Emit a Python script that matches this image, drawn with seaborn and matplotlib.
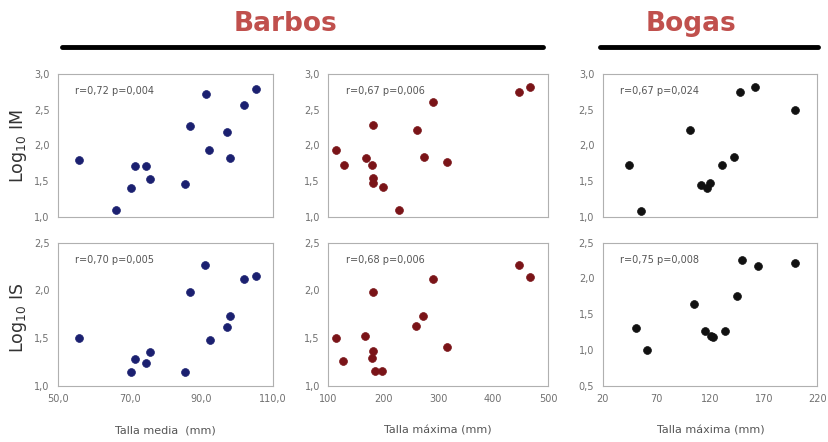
import numpy as np
import pandas as pd
import matplotlib
matplotlib.use('Agg')
import matplotlib.pyplot as plt
import seaborn as sns
from matplotlib.ticker import FuncFormatter

# Barbos - talla media vs log10 IM
barbo_media_im_x = [55.9, 66.3, 70.5, 71.5, 74.7, 75.7, 85.6, 86.8, 91.3, 92.3, 97.1, 98.0, 102.0, 105.3]
barbo_media_im_y = [1.80, 1.10, 1.40, 1.71, 1.71, 1.53, 1.46, 2.27, 2.72, 1.93, 2.19, 1.83, 2.57, 2.79]
# Barbos - talla media vs log10 IS
barbo_media_is_x = [55.8, 70.4, 71.5, 74.6, 75.7, 85.4, 86.8, 91.2, 92.4, 97.1, 98.1, 102.0, 105.4]
barbo_media_is_y = [1.50, 1.15, 1.28, 1.24, 1.35, 1.15, 1.98, 2.27, 1.48, 1.62, 1.73, 2.12, 2.15]
# Barbos - talla maxima vs log10 IM
barbo_max_im_x = [114, 128, 168, 179, 181, 181, 182, 199, 228, 261, 274, 290, 316, 447, 467]
barbo_max_im_y = [1.94, 1.72, 1.83, 1.72, 2.28, 1.55, 1.47, 1.42, 1.10, 2.21, 1.84, 2.60, 1.77, 2.75, 2.81]
# Barbos - talla maxima vs log10 IS
barbo_max_is_x = [114, 127, 167, 179, 181, 181, 185, 198, 260, 273, 291, 317, 447, 467]
barbo_max_is_y = [1.50, 1.26, 1.52, 1.29, 1.36, 1.98, 1.16, 1.16, 1.63, 1.73, 2.12, 1.41, 2.27, 2.14]
# Bogas - talla maxima vs log10 IM
boga_max_im_x = [44.7, 55.5, 101.6, 111.2, 117.4, 119.5, 131.0, 142.4, 147.7, 162.2, 198.7]
boga_max_im_y = [1.72, 1.09, 2.21, 1.45, 1.41, 1.47, 1.72, 1.84, 2.74, 2.81, 2.50]
# Bogas - talla maxima vs log10 IS
boga_max_is_x = [50.9, 61.4, 105.3, 115.2, 121.1, 123.2, 134.4, 145.2, 149.8, 165.0, 199.6]
boga_max_is_y = [1.31, 1.00, 1.65, 1.27, 1.19, 1.18, 1.27, 1.75, 2.26, 2.17, 2.22]

stats_text = ["r=0,72 p=0,004", "r=0,67 p=0,006", "r=0,67 p=0,024",
              "r=0,70 p=0,005", "r=0,68 p=0,006", "r=0,75 p=0,008"]

sns.set_style("white")
plt.rcParams['font.family'] = ['DejaVu Sans']

fig = plt.figure(figsize=(8.29, 4.42), dpi=100)

lefts = [0.070, 0.396, 0.727]
widths = [0.259, 0.265, 0.259]
bottoms = [0.509, 0.127]
height = 0.324

panels = [
    (0, 0, barbo_media_im_x, barbo_media_im_y, '#1b2070'),
    (0, 1, barbo_max_im_x, barbo_max_im_y, '#7a1418'),
    (0, 2, boga_max_im_x, boga_max_im_y, '#111111'),
    (1, 0, barbo_media_is_x, barbo_media_is_y, '#1b2070'),
    (1, 1, barbo_max_is_x, barbo_max_is_y, '#7a1418'),
    (1, 2, boga_max_is_x, boga_max_is_y, '#111111'),
]
xlims = [(50, 110), (100, 500), (20, 220)]
xticks = [[50, 70, 90, 110], [100, 200, 300, 400, 500], [20, 70, 120, 170, 220]]
xfmt = ['{:.1f}', '{:.0f}', '{:.0f}']

comma = lambda fmt: FuncFormatter(lambda v, p: fmt.format(v).replace('.', ','))

for i, (row, col, xs, ys, color) in enumerate(panels):
    ax = fig.add_axes([lefts[col], bottoms[row], widths[col], height])
    df = pd.DataFrame({'x': xs, 'y': ys})
    sns.scatterplot(data=df, x='x', y='y', ax=ax, color=color, s=32,
                    edgecolor=color, linewidth=0.5)
    ax.set_xlim(*xlims[col])
    ax.set_xticks(xticks[col])
    if row == 0:
        ax.set_ylim(1.0, 3.0)
        ax.set_yticks(np.arange(1.0, 3.01, 0.5))
        ax.set_xticklabels([])
    else:
        lo = 0.5 if col == 2 else 1.0
        ax.set_ylim(lo, 2.5)
        ax.set_yticks(np.arange(lo, 2.51, 0.5))
        ax.xaxis.set_major_formatter(comma(xfmt[col]))
    ax.yaxis.set_major_formatter(comma('{:.1f}'))
    ax.set_xlabel('')
    ax.set_ylabel('')
    for sp in ax.spines.values():
        sp.set_color('#b0b0b0')
        sp.set_linewidth(0.8)
    ax.tick_params(axis='both', direction='out', length=3, width=0.7,
                   color='#a0a0a0', labelsize=7, labelcolor='#707070', pad=3)
    ax.text(0.08, 0.86, stats_text[i], transform=ax.transAxes,
            fontsize=7, color='#555555')

# axis titles
fig.text(0.022, 0.67, r'Log$_{10}$ IM', rotation=90, ha='center', va='center',
         fontsize=12.5, color='#333333')
fig.text(0.022, 0.28, r'Log$_{10}$ IS', rotation=90, ha='center', va='center',
         fontsize=12.5, color='#333333')
fig.text(0.200, 0.02, 'Talla media  (mm)', ha='center', fontsize=8, color='#555555')
fig.text(0.528, 0.02, 'Talla máxima (mm)', ha='center', fontsize=8, color='#555555')
fig.text(0.858, 0.02, 'Talla máxima (mm)', ha='center', fontsize=8, color='#555555')

# group headings
fig.text(0.344, 0.945, 'Barbos', ha='center', va='center', fontsize=19,
         fontweight='bold', color='#c0504d')
fig.text(0.834, 0.945, 'Bogas', ha='center', va='center', fontsize=19,
         fontweight='bold', color='#c0504d')
fig.add_artist(plt.Line2D([0.075, 0.655], [0.893, 0.893], color='black', linewidth=3.5))
fig.add_artist(plt.Line2D([0.724, 0.987], [0.893, 0.893], color='black', linewidth=3.5))

fig.savefig('out.png', dpi=100)
plt.close(fig)
